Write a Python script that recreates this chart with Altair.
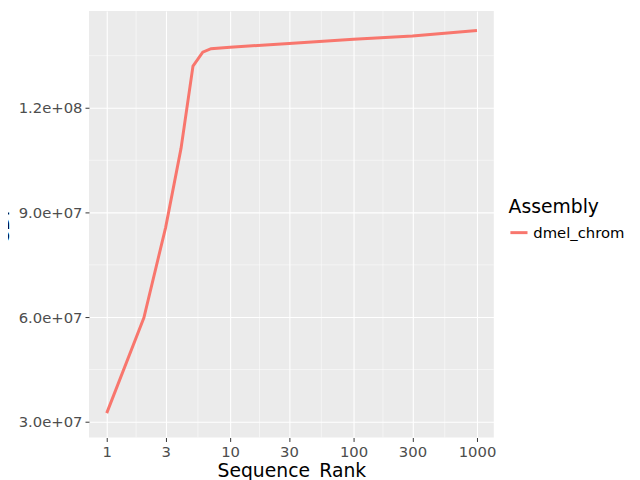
import pandas as pd
import altair as alt

ranks = [1, 2, 3, 4, 5, 6, 7, 10, 30, 100, 300, 1000]
cdf = [3.25e7, 5.98e7, 8.57e7, 1.084e8, 1.32e8, 1.36e8, 1.37e8, 1.374e8, 1.385e8, 1.397e8, 1.406e8, 1.422e8]
x_ticks = [1, 3, 10, 30, 100, 300, 1000]
y_ticks = [3e7, 6e7, 9e7, 1.2e8]
x_minor = [1.73, 5.48, 17.3, 54.8, 173, 548]
y_minor = [4.5e7, 7.5e7, 1.05e8, 1.35e8]

data = pd.DataFrame({"Sequence_Rank": ranks, "CDF": cdf, "Assembly": "dmel_chrom"})

xs = alt.Scale(type="log", domain=[0.718, 1368], nice=False)
ys = alt.Scale(domain=[2.55e7, 1.478e8], nice=False, zero=False)

ylab = "replace(replace(format(datum.value, '.1e'), 'e+7', 'e+07'), 'e+8', 'e+08')"
x_axis = alt.Axis(values=x_ticks, labelExpr="format(datum.value, 'd')", title="Sequence_Rank")
y_axis = alt.Axis(values=y_ticks, labelExpr=ylab, title="CDF")

minor_y = alt.Chart(pd.DataFrame({"v": y_minor})).mark_rule(color="white", strokeWidth=0.5).encode(
    y=alt.Y("v:Q", scale=ys, axis=y_axis, title="CDF"))
minor_x = alt.Chart(pd.DataFrame({"v": x_minor})).mark_rule(color="white", strokeWidth=0.5).encode(
    x=alt.X("v:Q", scale=xs, axis=x_axis, title="Sequence_Rank"))

line = alt.Chart(data).mark_line(strokeWidth=3).encode(
    x=alt.X("Sequence_Rank:Q", scale=xs, axis=x_axis),
    y=alt.Y("CDF:Q", scale=ys, axis=y_axis),
    color=alt.Color("Assembly:N", scale=alt.Scale(range=["#F8766D"]),
                    legend=alt.Legend(orient="none", legendX=425, legendY=190, symbolType="stroke",
                                      symbolStrokeWidth=3, symbolSize=300, titleFontSize=19,
                                      labelFontSize=15, titleFontWeight="normal", titleColor="black",
                                      labelColor="black", titleFont="DejaVu Sans", labelFont="DejaVu Sans")),
)

chart = alt.layer(minor_y, minor_x, line).properties(
    width=410, height=432, autosize=alt.AutoSizeParams(type="none"),
    padding={"left": 82, "top": 0, "right": 140, "bottom": 40},
).configure_view(fill="#EBEBEB", stroke=None).configure_axis(
    grid=True, gridColor="white", gridWidth=1.1, domain=False,
    tickColor="#333333", tickSize=4, labelColor="#4D4D4D", labelFontSize=15,
    labelFont="DejaVu Sans", titleFont="DejaVu Sans", titleFontSize=19,
    titleFontWeight="normal", titleColor="black", labelPadding=3,
).configure_axisX(titlePadding=2).configure_axisY(titlePadding=6)

chart.save("out.html", embed_options={"renderer": "svg", "actions": False})
